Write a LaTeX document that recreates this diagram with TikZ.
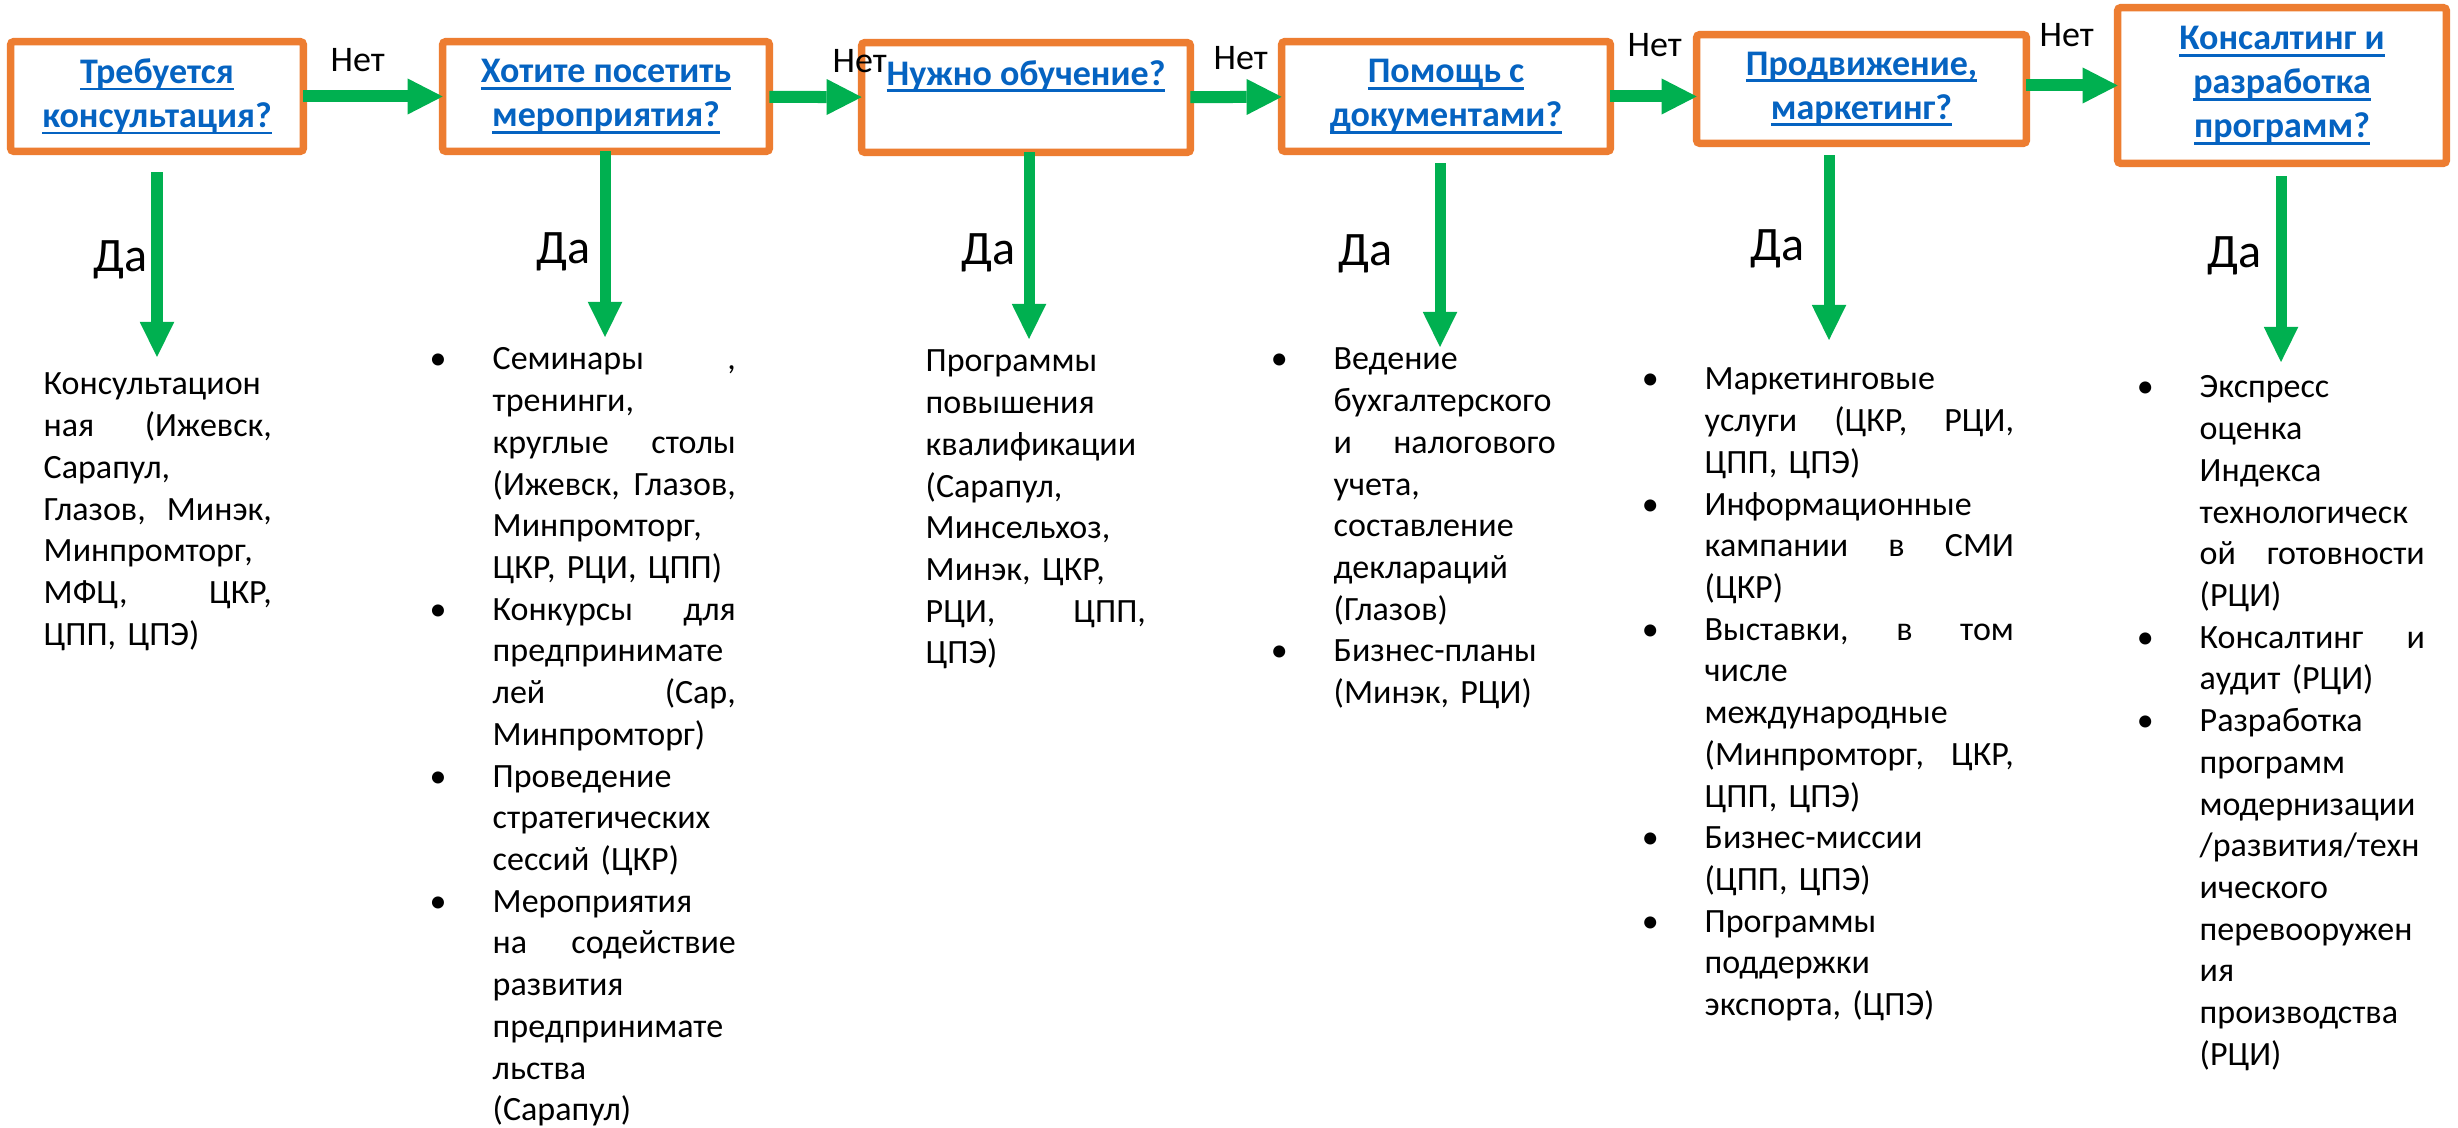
\documentclass[tikz,border=0pt]{standalone}
\usepackage{fontspec}
\setmainfont{Carlito}
\usetikzlibrary{arrows.meta}
\definecolor{boxorange}{HTML}{ED7D31}
\definecolor{arrowgreen}{HTML}{00B050}
\definecolor{linkblue}{HTML}{0563C1}
\hyphenpenalty=10000
\exhyphenpenalty=10000
\newsavebox{\lnkbox}
\newcommand{\lnk}[1]{\sbox{\lnkbox}{#1}\rlap{\rule[-2pt]{\wd\lnkbox}{0.8pt}}\usebox{\lnkbox}}
\newcommand{\colw}{2cm}
\newcommand{\jl}[1]{\leavevmode\hbox to \colw{#1}}
\newcommand{\bul}{\leavevmode\llap{\textbullet\hspace{0.46cm}}}
\tikzstyle{qbox} = [draw=boxorange, line width=0.075cm, rounded corners=0.03cm, fill=white, inner sep=0pt, outer sep=0pt, align=center, text=linkblue, font=\fontsize{10.24pt}{12.5pt}\selectfont\bfseries]
\tikzstyle{noarrow} = [arrowgreen, line width=0.12cm, -{Triangle[width=0.36cm, length=0.35cm, line width=0pt]}]
\tikzstyle{yesarrow} = [arrowgreen, line width=0.11cm, -{Triangle[width=0.345cm, length=0.35cm, line width=0pt]}]
\tikzstyle{nolabel} = [anchor=base west, inner sep=0pt, font=\fontsize{10.24pt}{12pt}\selectfont]
\tikzstyle{yeslabel} = [anchor=base west, inner sep=0pt, font=\fontsize{13.66pt}{16pt}\selectfont]
\tikzset{listtext/.style={anchor=base west, inner sep=0pt, align=left, text width=#1, execute at begin node={\renewcommand{\colw}{#1}}, font=\fontsize{9.67pt}{11.86pt}\selectfont}}

\begin{document}
\begin{tikzpicture}[x=0.01cm, y=-0.01cm]
\fill[white] (0,0) rectangle (2458,1128);
\useasboundingbox (0,0) rectangle (2458,1128);

% questions
\node[qbox, minimum width=2.925cm, minimum height=1.095cm] (q1) at (157,96.5) {\lnk{Требуется}\\\lnk{консультация?}};
\node[qbox, minimum width=3.265cm, minimum height=1.095cm] (q2) at (606,96.5) {\lnk{Хотите посетить}\\\lnk{мероприятия?}};
\node[qbox, minimum width=3.285cm, minimum height=1.095cm] (q3) at (1026,97.5) {\lnk{Нужно обучение?}\\\phantom{консультация?}};
\node[qbox, minimum width=3.285cm, minimum height=1.095cm] (q4) at (1446,96.5) {\lnk{Помощь с}\\\lnk{документами?}};
\node[qbox, minimum width=3.295cm, minimum height=1.085cm] (q5) at (1861.5,89) {\lnk{Продвижение,}\\\lnk{маркетинг?}};
\node[qbox, minimum width=3.285cm, minimum height=1.555cm] (q6) at (2282,85.5) {\lnk{Консалтинг и}\\\lnk{разработка}\\\lnk{программ?}};

% "no" arrows
\draw[noarrow] (q1) -- (q2);
\draw[noarrow] (q2) -- (q3);
\draw[noarrow] (q3) -- (q4);
\draw[noarrow] (q4.east) -- (q4.east -| q5.west);
\draw[noarrow] (q6.west -| q5.east) -- (q6.west);
\node[nolabel] (no1) at (330,72) {Нет};
\node[nolabel] (no2) at (832,73) {Нет};
\node[nolabel] (no3) at (1213,70) {Нет};
\node[nolabel] (no4) at (1627,57) {Нет};
\node[nolabel] (no5) at (2039,47) {Нет};

% "yes" arrows
\coordinate (y1) at (157,357);
\coordinate (y2) at (605,337);
\coordinate (y3) at (1029,339);
\coordinate (y4) at (1440,347);
\coordinate (y5) at (1829,340);
\coordinate (y6) at (2281,362);
\draw[yesarrow] (q1.south -| y1) ++(0,21) -- (y1);
\draw[yesarrow] (q2.south -| y2) -- (y2);
\draw[yesarrow] (q3.south -| y3) -- (y3);
\draw[yesarrow] (q4.south -| y4) ++(0,12) -- (y4);
\draw[yesarrow] (q5.south -| y5) ++(0,12) -- (y5);
\draw[yesarrow] (q6.south -| y6) ++(0,13) -- (y6);
\node[yeslabel] (yes1) at (93,272) {Да};
\node[yeslabel] (yes2) at (536,264) {Да};
\node[yeslabel] (yes3) at (961,265) {Да};
\node[yeslabel] (yes4) at (1338,266) {Да};
\node[yeslabel] (yes5) at (1750,261) {Да};
\node[yeslabel] (yes6) at (2207,268) {Да};

% answers
\node[listtext=2.28cm] (a1) at (43,395) {Консультацион\\
\jl{ная \hfill (Ижевск,}\\
Сарапул,\\
\jl{Глазов, \hfill Минэк,}\\
Минпромторг,\\
\jl{МФЦ, \hfill ЦКР,}\\
ЦПП, ЦПЭ)};
\node[listtext=2.43cm] (a2) at (492,370) {\bul\jl{Семинары \hfill ,}\\
тренинги,\\
\jl{круглые \hfill столы}\\
\jl{(Ижевск, \hfill Глазов,}\\
Минпромторг,\\
ЦКР, РЦИ, ЦПП)\\
\bul\jl{Конкурсы \hfill для}\\
предпринимате\\
\jl{лей \hfill (Сар,}\\
Минпромторг)\\
\bul Проведение\\
стратегических\\
сессий (ЦКР)\\
\bul Мероприятия\\
\jl{на \hfill содействие}\\
развития\\
предпринимате\\
льства\\
(Сарапул)};
\node[listtext=2.2cm] (a3) at (925,372) {Программы\\
повышения\\
квалификации\\
(Сарапул,\\
Минсельхоз,\\
Минэк, ЦКР,\\
\jl{РЦИ, \hfill ЦПП,}\\
ЦПЭ)};
\node[listtext=2.22cm] (a4) at (1333,370) {\bul Ведение\\
бухгалтерского\\
\jl{и \hfill налогового}\\
учета,\\
составление\\
деклараций\\
(Глазов)\\
\bul Бизнес-планы\\
(Минэк, РЦИ)};
\node[listtext=3.09cm] (a5) at (1704,390) {\bul Маркетинговые\\
\jl{услуги \hfill (ЦКР, \hfill РЦИ,}\\
ЦПП, ЦПЭ)\\
\bul Информационные\\
\jl{кампании \hfill в \hfill СМИ}\\
(ЦКР)\\
\bul\jl{Выставки, \hfill в \hfill том}\\
числе\\
международные\\
\jl{(Минпромторг, \hfill ЦКР,}\\
ЦПП, ЦПЭ)\\
\bul Бизнес-миссии\\
(ЦПП, ЦПЭ)\\
\bul Программы\\
поддержки\\
экспорта, (ЦПЭ)};
\node[listtext=2.25cm] (a6) at (2199,398) {\bul Экспресс\\
оценка\\
Индекса\\
технологическ\\
\jl{ой \hfill готовности}\\
(РЦИ)\\
\bul\jl{Консалтинг \hfill и}\\
аудит (РЦИ)\\
\bul Разработка\\
программ\\
модернизации\\
/развития/техн\\
ического\\
перевооружен\\
ия\\
производства\\
(РЦИ)};
\end{tikzpicture}
\end{document}
